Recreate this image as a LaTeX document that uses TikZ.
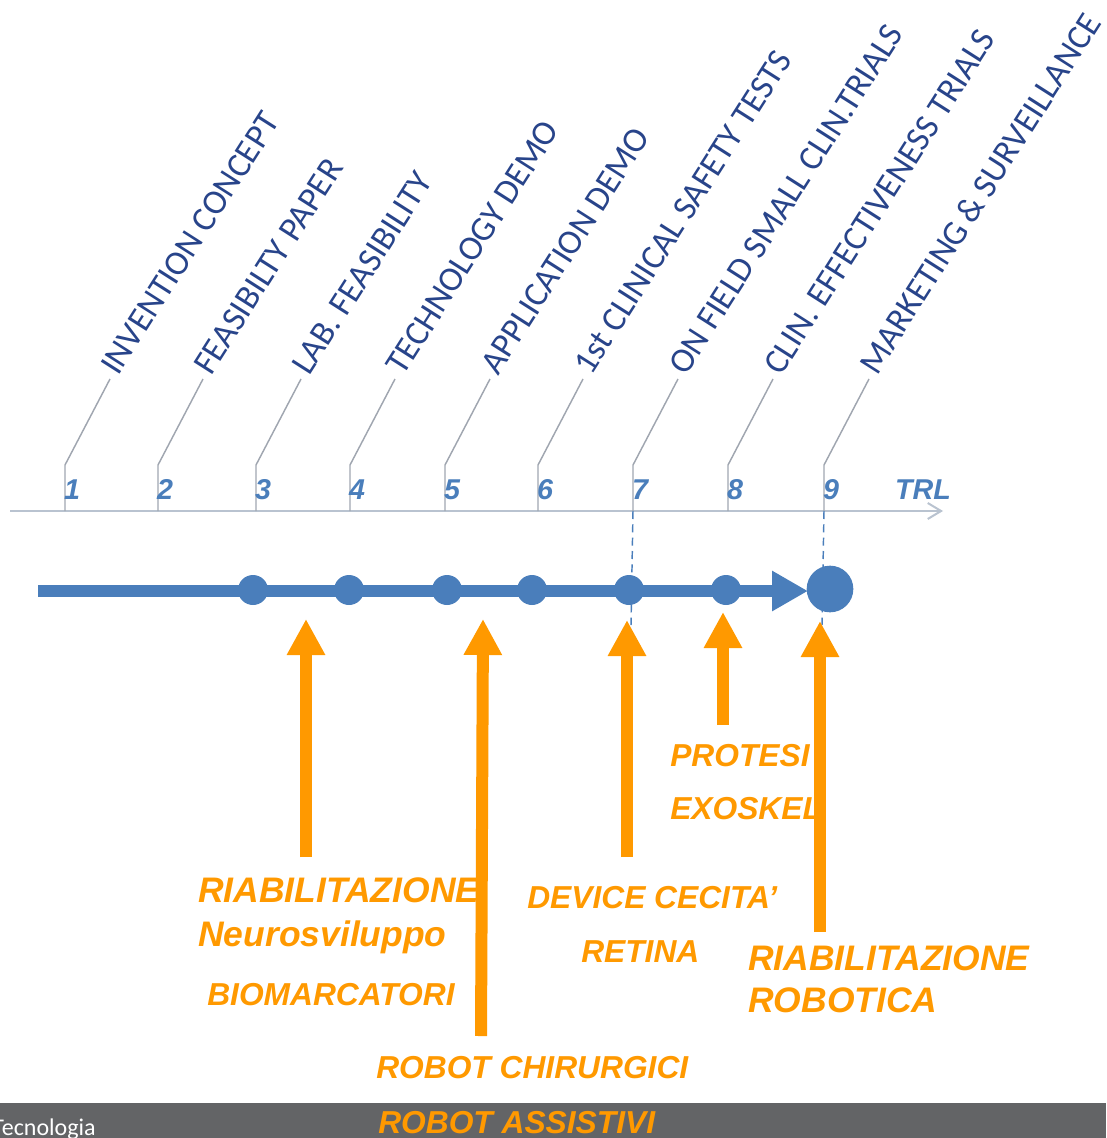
\documentclass[tikz,border=0pt]{standalone}
\usepackage{fontspec}
\setmainfont{Liberation Sans}
\newfontfamily\calfont{Carlito}
\usetikzlibrary{arrows.meta}
\definecolor{axisgray}{RGB}{185,195,208}
\definecolor{tickgray}{RGB}{160,166,176}
\definecolor{lblblue}{RGB}{40,68,138}
\definecolor{numblue}{RGB}{74,126,187}
\definecolor{trlorange}{RGB}{255,153,0}
\definecolor{bargray}{RGB}{99,100,102}
\tikzset{
  stage/.style={font=\calfont\fontsize{26pt}{30pt}\selectfont, text=lblblue, inner sep=0pt},
  num/.style={font=\bfseries\itshape\fontsize{21.5pt}{24pt}\selectfont, text=numblue, inner sep=0pt},
  tickline/.style={draw=tickgray, line width=1.1pt},
  axisline/.style={draw=axisgray, line width=1.5pt, -{Straight Barb[length=10pt,width=12pt]}},
  dashline/.style={draw=numblue, line width=1.1pt, dash pattern=on 6pt off 4pt},
  blueline/.style={draw=numblue, line width=9pt, -{Triangle[length=27pt,width=28.5pt]}},
  dot/.style={circle, fill=numblue, inner sep=0pt, minimum size=22.5pt},
  bigdot/.style={circle, fill=numblue, inner sep=0pt, minimum size=35pt},
  oarrow/.style={draw=trlorange, line width=9pt, -{Triangle[length=27pt,width=27pt]}},
  obig/.style={font=\bfseries\itshape\fontsize{26.6pt}{30pt}\selectfont, text=trlorange, inner sep=0pt, anchor=base west},
  osmall/.style={font=\bfseries\itshape\fontsize{23.8pt}{28pt}\selectfont, text=trlorange, inner sep=0pt, anchor=base west},
}
\begin{document}
\begin{tikzpicture}[x=0.75pt,y=-0.75pt]
\useasboundingbox (0,0) rectangle (1106,1138);
% axis
\coordinate (ax0) at (10,511);
\coordinate (ax1) at (943,511);
\draw[axisline] (ax0) -- (ax1);
% ticks, stage labels, numbers
\foreach \n/\x/\t in {1/65/INVENTION CONCEPT, 2/158/FEASIBILTY PAPER, 3/256/LAB. FEASIBILITY,
  4/350/TECHNOLOGY DEMO, 5/445/APPLICATION DEMO, 6/538/1st CLINICAL SAFETY TESTS,
  7/633/ON FIELD SMALL CLIN.TRIALS, 8/728/CLIN. EFFECTIVENESS TRIALS, 9/824/MARKETING\,\& SURVEILLANCE}{
  \coordinate (t\n) at (\x,511);
  \coordinate (b\n) at (\x,465);
  \coordinate (e\n) at (\x+45,379);
  \draw[tickline] (t\n) -- (b\n) -- (e\n);
  \node[stage, anchor=base west, rotate=57.5] (s\n) at (\x+53,377) {\t};
  \node[num, anchor=base] (n\n) at (\x+7,499) {\n};
}
\node[num, anchor=base] (trl) at (923,499) {TRL};
% dashed guides
\coordinate (g7) at (631,625);
\coordinate (g9) at (822,625);
\draw[dashline] (t7) -- (g7);
\draw[dashline] (t9) -- (g9);
% blue progress line
\coordinate (ls) at (38,591);
\coordinate (le) at (808,591);
\draw[blueline] (ls) -- (le);
\foreach \k/\x in {3/253,4/349,5/447,6/532,7/629,8/726}{
  \node[dot] (d\k) at (\x,590) {};
}
\node[bigdot] (d9) at (830,589) {};
% orange texts
\node[obig] (r1) at (198,902) {RIABILITAZIONE};
\node[obig] (r2) at (198,946) {Neurosviluppo};
\node[osmall] (bio) at (207,1005) {BIOMARCATORI};
\node[osmall] (rch) at (376,1078) {ROBOT CHIRURGICI};
\node[osmall] (dev) at (527,908) {DEVICE CECITA’};
\node[osmall] (ret) at (581,962) {RETINA};
\node[osmall] (pro) at (670,766) {PROTESI};
\node[osmall] (exo) at (670,819) {EXOSKEL};
\node[obig] (rr1) at (748,970) {RIABILITAZIONE};
\node[obig] (rr2) at (748,1012) {ROBOTICA};
% orange arrows
\coordinate (a1s) at (306,857); \coordinate (a1e) at (306,619);
\coordinate (a2s) at (481,1036); \coordinate (a2e) at (483,619);
\coordinate (a3s) at (627,857); \coordinate (a3e) at (627,620);
\coordinate (a4s) at (723,725); \coordinate (a4e) at (723,612);
\coordinate (a5s) at (820,932); \coordinate (a5e) at (820,621);
\draw[oarrow] (a1s) -- (a1e);
\draw[oarrow] (a2s) -- (a2e);
\draw[oarrow] (a3s) -- (a3e);
\draw[oarrow] (a4s) -- (a4e);
\draw[oarrow] (a5s) -- (a5e);
% bottom bar
\fill[bargray] (0,1103) rectangle (1106,1138);
\node[font=\calfont\fontsize{18pt}{20pt}\selectfont, text=white, inner sep=0pt, anchor=base west] (tec) at (-8,1135) {Tecnologia};
\node[osmall] (ras) at (378,1133) {ROBOT ASSISTIVI};
\end{tikzpicture}
\end{document}
